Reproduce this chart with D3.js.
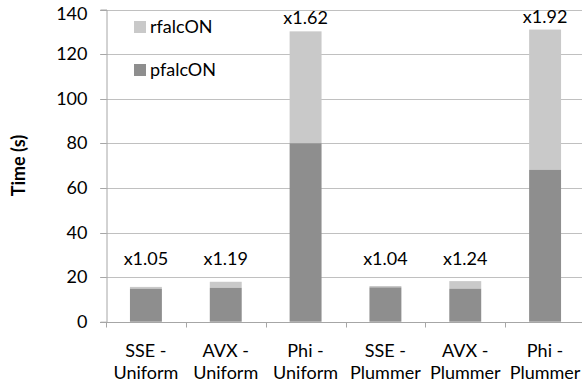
<!DOCTYPE html>
<html>
<head>
<meta charset="utf-8">
<script src="https://cdn.jsdelivr.net/npm/d3@7"></script>
<style>
  body { margin: 0; background: #fff; }
  text { font-family: Lato, "Open Sans", sans-serif; fill: #000; }
</style>
</head>
<body>
<div id="chart"></div>
<script>
// data
const categories = ["SSE - Uniform", "AVX - Uniform", "Phi - Uniform", "SSE - Plummer", "AVX - Plummer", "Phi - Plummer"];
const pfalcON = [14.8, 15.2, 80.0, 15.4, 14.8, 68.1];   // bottom (dark) part
const rfalcON = [15.6, 17.9, 130.2, 16.0, 18.2, 131.0]; // total time with rfalcON
const speedups = ["x1.05", "x1.19", "x1.62", "x1.04", "x1.24", "x1.92"];
const yTicks = [0, 20, 40, 60, 80, 100, 120, 140];

const width = 582, height = 383;
const margin = { top: 9.5, right: -3, bottom: 61.3, left: 106 };
const fs = 18; // font size (Excel 14pt)

const svg = d3.select("#chart").append("svg")
  .attr("width", width)
  .attr("height", height);

const x = d3.scaleBand()
  .domain(categories)
  .range([margin.left, width - margin.right])
  .paddingInner(0.6)
  .paddingOuter(0.3);

const y = d3.scaleLinear()
  .domain([0, 140])
  .range([height - margin.bottom, margin.top]);

// gridlines
svg.append("g")
  .selectAll("line")
  .data(yTicks.filter(d => d > 0))
  .join("line")
  .attr("x1", margin.left - 6)
  .attr("x2", width)
  .attr("y1", d => Math.round(y(d)) + 0.5)
  .attr("y2", d => Math.round(y(d)) + 0.5)
  .attr("stroke", "#c0c0c0");

// y axis
const yAxis = svg.append("g")
  .attr("transform", `translate(${margin.left + 0.5},0)`)
  .call(d3.axisLeft(y).tickValues(yTicks).tickSize(6).tickPadding(13));
yAxis.select(".domain").attr("stroke", "#a6a6a6");
yAxis.selectAll(".tick line").attr("stroke", "#a6a6a6");
yAxis.selectAll(".tick text").attr("font-size", fs).attr("fill", "#000");
yAxis.selectAll(".tick").attr("transform", d => `translate(0,${Math.round(y(d)) + 0.5})`);
// keep the top label inside the picture
yAxis.selectAll(".tick text").filter(d => d === 140).attr("dy", "0.5em");

// stacked bars: top part light, bottom part dark
const bars = svg.append("g");
bars.selectAll("rect.r")
  .data(categories)
  .join("rect")
  .attr("class", "r")
  .attr("x", d => x(d))
  .attr("width", x.bandwidth())
  .attr("y", (d, i) => y(rfalcON[i]))
  .attr("height", (d, i) => y(pfalcON[i]) - y(rfalcON[i]))
  .attr("fill", "#c9c9c9");

bars.selectAll("rect.p")
  .data(categories)
  .join("rect")
  .attr("class", "p")
  .attr("x", d => x(d))
  .attr("width", x.bandwidth())
  .attr("y", (d, i) => y(pfalcON[i]))
  .attr("height", (d, i) => y(0) - y(pfalcON[i]))
  .attr("fill", "#8e8e8e");

// x axis line and ticks between categories
const y0 = Math.round(y(0)) + 0.5;
svg.append("line")
  .attr("x1", margin.left - 6).attr("x2", width)
  .attr("y1", y0).attr("y2", y0)
  .attr("stroke", "#a6a6a6");

const step = x.step();
svg.append("g")
  .selectAll("line")
  .data(d3.range(categories.length + 1))
  .join("line")
  .attr("x1", i => Math.round(margin.left + i * step) + 0.5)
  .attr("x2", i => Math.round(margin.left + i * step) + 0.5)
  .attr("y1", y0)
  .attr("y2", y0 + 5)
  .attr("stroke", "#a6a6a6");

// category labels, two lines
const xl = svg.append("g")
  .selectAll("text")
  .data(categories)
  .join("text")
  .attr("text-anchor", "middle")
  .attr("font-size", fs)
  .attr("x", d => x(d) + x.bandwidth() / 2);
xl.append("tspan")
  .attr("x", d => x(d) + x.bandwidth() / 2)
  .attr("y", 357)
  .text(d => d.split(" - ")[0] + " -");
xl.append("tspan")
  .attr("x", d => x(d) + x.bandwidth() / 2)
  .attr("y", 379)
  .text(d => d.split(" - ")[1]);

// speedup labels
svg.append("g")
  .selectAll("text")
  .data(speedups)
  .join("text")
  .attr("text-anchor", "middle")
  .attr("font-size", fs)
  .attr("x", (d, i) => x(categories[i]) + x.bandwidth() / 2)
  .attr("y", (d, i) => y(Math.max(rfalcON[i], 22.5)) - 7)
  .text(d => d);

// y axis title
svg.append("text")
  .attr("transform", `translate(25,${(margin.top + y(0)) / 2}) rotate(-90)`)
  .attr("text-anchor", "middle")
  .attr("font-size", fs)
  .attr("font-weight", "bold")
  .text("Time (s)");

// legend
const legend = [
  { name: "rfalcON", color: "#c9c9c9", cy: 27 },
  { name: "pfalcON", color: "#8e8e8e", cy: 70 }
];
const lg = svg.append("g")
  .selectAll("g")
  .data(legend)
  .join("g");
lg.append("rect")
  .attr("x", 134).attr("y", d => d.cy - 6)
  .attr("width", 12).attr("height", 12)
  .attr("fill", d => d.color);
lg.append("text")
  .attr("x", 150).attr("y", d => d.cy + 6)
  .attr("font-size", fs)
  .text(d => d.name);
</script>
</body>
</html>
